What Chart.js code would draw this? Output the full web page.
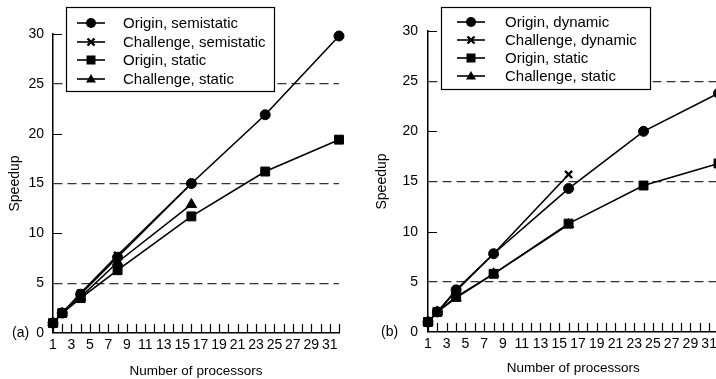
<!DOCTYPE html>
<html>
<head>
<meta charset="utf-8">
<script src="https://cdn.jsdelivr.net/npm/chart.js@4.4.1/dist/chart.umd.min.js"></script>
<style>
  html, body { margin: 0; padding: 0; background: #fff; }
  #wrap { position: relative; width: 716px; height: 379px; overflow: hidden; }
  #wrap canvas { position: absolute; top: 0; }
</style>
</head>
<body>
<div id="wrap">
  <canvas id="chartA" width="358" height="379" style="left:0"></canvas>
  <canvas id="chartB" width="380" height="379" style="left:358px"></canvas>
</div>
<script>
// processor counts measured
const procs = [1, 2, 4, 8, 16, 24, 32];

// panel (a)
const originSemistatic = [1, 2, 3.9, 7.6, 15, 21.9, 29.8];
const challengeSemistatic = [1, 2, 4, 7.8, 15];
const originStaticA = [1, 2, 3.5, 6.3, 11.7, 16.2, 19.4];
const challengeStaticA = [1, 2, 3.6, 7.1, 12.9];

// panel (b)
const originDynamic = [1, 2, 4.2, 7.8, 14.3, 20, 23.8];
const challengeDynamic = [1, 2, 4.1, 7.8, 15.7];
const originStaticB = [1, 2, 3.5, 5.8, 10.8, 14.6, 16.8];
const challengeStaticB = [1, 2, 3.4, 5.8, 10.7];

const labelsA = ['Origin, semistatic', 'Challenge, semistatic', 'Origin, static', 'Challenge, static'];
const labelsB = ['Origin, dynamic', 'Challenge, dynamic', 'Origin, static', 'Challenge, static'];

const yTicks = [0, 5, 10, 15, 20, 25, 30];

const FONT = "'Liberation Sans', Arial, sans-serif";
const INK = '#000';

function toPoints(vals) {
    return vals.map((v, i) => ({ x: procs[i], y: v }));
}

const markers = [
    { pointStyle: 'circle', pointRadius: 5, pointBorderWidth: 1 },
    { pointStyle: 'crossRot', pointRadius: 5, pointBorderWidth: 2.4 },
    { pointStyle: 'rect', pointRadius: 6.3, pointBorderWidth: 1 },
    { pointStyle: 'triangle', pointRadius: 6, pointBorderWidth: 1 }
];

function makeDatasets(series, labels) {
    return series.map((vals, i) => Object.assign({
        label: labels[i],
        data: toPoints(vals),
        borderColor: INK,
        backgroundColor: INK,
        pointBackgroundColor: INK,
        pointBorderColor: INK,
        borderWidth: 1.6,
        tension: 0,
        clip: false
    }, markers[i]));
}

// draws a marker for the legend box
function drawMarker(ctx, style, x, y) {
    ctx.save();
    ctx.fillStyle = INK;
    ctx.strokeStyle = INK;
    ctx.beginPath();
    if (style === 'circle') {
        ctx.arc(x, y, 5, 0, Math.PI * 2);
        ctx.fill();
    } else if (style === 'rect') {
        ctx.fillRect(x - 4.5, y - 4.5, 9, 9);
    } else if (style === 'triangle') {
        ctx.moveTo(x, y - 5);
        ctx.lineTo(x + 5, y + 3.5);
        ctx.lineTo(x - 5, y + 3.5);
        ctx.closePath();
        ctx.fill();
    } else {
        ctx.lineWidth = 2.4;
        ctx.moveTo(x - 3.5, y - 3.5); ctx.lineTo(x + 3.5, y + 3.5);
        ctx.moveTo(x + 3.5, y - 3.5); ctx.lineTo(x - 3.5, y + 3.5);
        ctx.stroke();
    }
    ctx.restore();
}

const paperPlugin = {
    id: 'paper',
    afterDatasetsDraw(chart, args, opts) {
        const ctx = chart.ctx;
        const xs = chart.scales.x, ys = chart.scales.y;
        const left = chart.chartArea.left, bottom = chart.chartArea.bottom;
        ctx.save();
        ctx.strokeStyle = INK;
        ctx.lineWidth = 1.2;
        ctx.beginPath();
        // inward ticks on x axis, every processor
        for (let p = 1; p <= 32; p++) {
            const px = Math.round(xs.getPixelForValue(p)) + 0.5;
            ctx.moveTo(px, bottom);
            ctx.lineTo(px, bottom - 9);
        }
        // inward ticks on y axis at 10, 20, 30
        [10, 20, 30].forEach(v => {
            const py = Math.round(ys.getPixelForValue(v)) + 0.5;
            ctx.moveTo(left, py);
            ctx.lineTo(left + 9, py);
        });
        ctx.stroke();

        // panel tag
        ctx.fillStyle = INK;
        ctx.font = '14px ' + FONT;
        ctx.textBaseline = 'middle';
        ctx.textAlign = 'left';
        ctx.fillText(opts.tag, opts.tagX, ys.getPixelForValue(0));

        // legend box
        const b = opts.box;
        ctx.fillStyle = '#fff';
        ctx.fillRect(b.x, b.y, b.w, b.h);
        ctx.lineWidth = 1.2;
        ctx.strokeStyle = INK;
        ctx.strokeRect(b.x + 0.5, b.y + 0.5, b.w, b.h);
        ctx.font = '15px ' + FONT;
        chart.data.datasets.forEach((ds, i) => {
            const ry = b.rows[i];
            ctx.beginPath();
            ctx.lineWidth = 1.6;
            ctx.moveTo(b.lineX, ry);
            ctx.lineTo(b.lineX + 28, ry);
            ctx.stroke();
            drawMarker(ctx, ds.pointStyle, b.lineX + 14, ry);
            ctx.fillStyle = INK;
            ctx.fillText(ds.label, b.textX, ry + 1);
        });
        ctx.restore();
    }
};

function makeChart(id, series, labels, cfg) {
    return new Chart(document.getElementById(id), {
        type: 'line',
        data: { datasets: makeDatasets(series, labels) },
        options: {
            responsive: false,
            animation: false,
            events: [],
            layout: { padding: { top: cfg.top, right: cfg.right, left: 0, bottom: 0 } },
            plugins: {
                legend: { display: false },
                tooltip: { enabled: false },
                paper: { tag: cfg.tag, tagX: cfg.tagX, box: cfg.box }
            },
            scales: {
                x: {
                    type: 'linear',
                    min: 1,
                    max: 32,
                    afterFit(scale) { scale.height = cfg.xHeight; },
                    grid: { display: false, drawTicks: false },
                    border: { display: true, color: INK, width: 1.5 },
                    ticks: {
                        stepSize: 1,
                        autoSkip: false,
                        maxRotation: 0,
                        padding: 4,
                        color: INK,
                        font: { family: FONT, size: 14 },
                        callback: v => (v % 2 === 1 ? String(v) : '')
                    },
                    title: {
                        display: true,
                        text: 'Number of processors',
                        color: INK,
                        font: { family: FONT, size: 13.5 },
                        padding: { top: 0, bottom: cfg.xTitlePad }
                    }
                },
                y: {
                    min: 0,
                    max: 30,
                    afterFit(scale) { scale.width = cfg.yWidth; },
                    afterBuildTicks(scale) { scale.ticks = yTicks.map(v => ({ value: v })); },
                    grid: {
                        drawTicks: false,
                        lineWidth: 1.2,
                        color: c => (c.tick && c.tick.value % 10 === 5 ? '#333' : 'rgba(0,0,0,0)')
                    },
                    border: { display: true, color: INK, width: 1.5, dash: [9, 5] },
                    ticks: {
                        padding: cfg.yTickPad,
                        color: INK,
                        font: { family: FONT, size: 14 }
                    },
                    title: {
                        display: true,
                        text: 'Speedup',
                        color: INK,
                        font: { family: FONT, size: 14 },
                        padding: { top: cfg.yTitlePad, bottom: 0 }
                    }
                }
            }
        },
        plugins: [paperPlugin]
    });
}

makeChart('chartA',
    [originSemistatic, challengeSemistatic, originStaticA, challengeStaticA], labelsA, {
        top: 34, right: 19, xHeight: 46, yWidth: 53, yTickPad: 9, yTitlePad: 7, xTitlePad: 0,
        tag: '(a)', tagX: 12,
        box: { x: 66, y: 7, w: 208, h: 84, rows: [23, 42, 60, 79], lineX: 77, textX: 123 }
    });

makeChart('chartB',
    [originDynamic, challengeDynamic, originStaticB, challengeStaticB], labelsB, {
        top: 31, right: 19.5, xHeight: 47, yWidth: 70, yTickPad: 10, yTitlePad: 16, xTitlePad: 3,
        tag: '(b)', tagX: 23,
        box: { x: 83, y: 7, w: 209, h: 82, rows: [22, 40, 58, 76], lineX: 99, textX: 147 }
    });
</script>
</body>
</html>
